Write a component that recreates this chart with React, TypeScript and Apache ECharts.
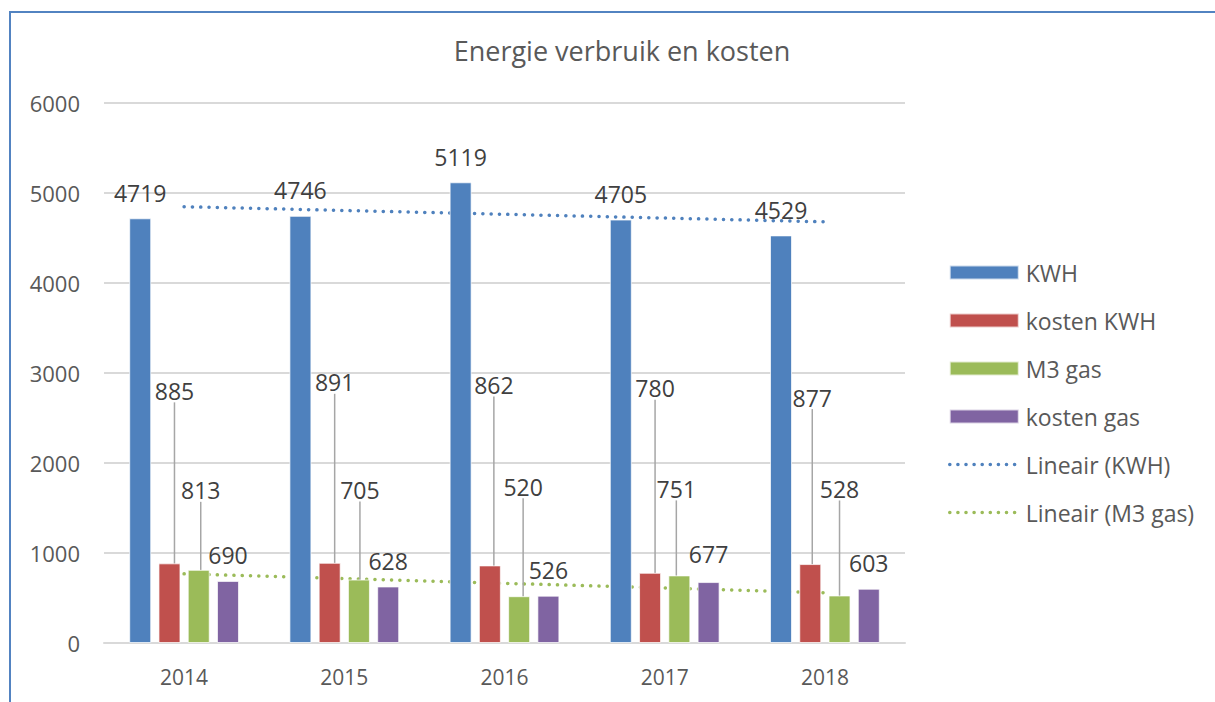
import React, { useEffect, useRef } from "react";
import * as echarts from "echarts";

const categories = ["2014", "2015", "2016", "2017", "2018"];
const kwh = [4719, 4746, 5119, 4705, 4529];
const kostenKwh = [885, 891, 862, 780, 877];
const m3Gas = [813, 705, 520, 751, 528];
const kostenGas = [690, 628, 526, 677, 603];
const yTicks = [0, 1000, 2000, 3000, 4000, 5000, 6000];

// label layout offsets (dragged labels in the original)
const kostenKwhLabelDx = [5, 5, 4, 5, 2];
const kostenKwhLabelDy = [-147, -155, -155, -159, -141];
const m3GasLabelDx = [2, 1, 4, -3, 0];
const m3GasLabelDy = [-54, -64, -84, -61, -81];
const kostenGasLabelDy = [0, 0, 0, -3, 0];

function linearTrend(values: number[]): number[] {
  const n = values.length;
  const xs = values.map((_, i) => i + 1);
  const mx = xs.reduce((a, b) => a + b, 0) / n;
  const my = values.reduce((a, b) => a + b, 0) / n;
  let num = 0;
  let den = 0;
  for (let i = 0; i < n; i++) {
    num += (xs[i] - mx) * (values[i] - my);
    den += (xs[i] - mx) * (xs[i] - mx);
  }
  const slope = num / den;
  const intercept = my - slope * mx;
  return xs.map((x) => +(intercept + slope * x).toFixed(2));
}

const FONT = "'Open Sans', 'Noto Sans', sans-serif";
const BLUE = "#4f81bd";
const RED = "#c0504d";
const GREEN = "#9bbb59";
const PURPLE = "#8064a2";

export default function App() {
  const ref = useRef<HTMLDivElement>(null);

  useEffect(() => {
    if (!ref.current) return;
    const chart = echarts.init(ref.current, undefined, { renderer: "svg" });

    const labelBase = {
      show: true,
      position: "top" as const,
      distance: 14,
      fontFamily: FONT,
      fontSize: 23,
      color: "#404040",
    };
    const leader = {
      show: true,
      lineStyle: { color: "#a6a6a6", width: 1.5 },
    };
    const barCommon = {
      type: "bar" as const,
      barWidth: 22,
      barGap: "33%",
      z: 3,
    };
    const bar = (color: string) => ({
      color,
      borderColor: "rgba(255,255,255,0.7)",
      borderWidth: 1,
    });
    const hiddenSymbol = { color: "rgba(0,0,0,0)", borderWidth: 0, opacity: 0 };
    const legendDots = { width: 3.5, type: [0.1, 8], cap: "round" };

    chart.setOption({
      animation: false,
      backgroundColor: "#ffffff",
      textStyle: { fontFamily: FONT },
      title: {
        text: "Energie verbruik en kosten",
        left: 617,
        top: 32,
        textAlign: "center",
        textStyle: {
          fontFamily: FONT,
          fontSize: 27,
          fontWeight: "normal",
          color: "#595959",
        },
      },
      graphic: [
        {
          type: "polyline",
          shape: {
            points: [
              [10, 702],
              [10, 12],
              [1215, 12],
            ],
          },
          style: { stroke: "#5283c1", lineWidth: 2, fill: "none" },
          silent: true,
        },
      ],
      legend: {
        orient: "vertical",
        left: 943,
        top: 256,
        itemWidth: 69,
        itemHeight: 14,
        itemGap: 25,
        textStyle: {
          fontFamily: FONT,
          fontSize: 23,
          color: "#595959",
          padding: [0, 0, 0, 2],
        },
        data: [
          { name: "KWH", icon: "rect" },
          { name: "kosten KWH", icon: "rect" },
          { name: "M3 gas", icon: "rect" },
          { name: "kosten gas", icon: "rect" },
          { name: "Lineair (KWH)", itemStyle: hiddenSymbol, lineStyle: legendDots },
          { name: "Lineair (M3 gas)", itemStyle: hiddenSymbol, lineStyle: legendDots },
        ],
      },
      grid: { left: 104, right: 310, top: 103, bottom: 59, containLabel: false },
      xAxis: {
        type: "category",
        data: categories,
        axisTick: { show: false },
        axisLine: { lineStyle: { color: "#d9d9d9", width: 2 } },
        axisLabel: {
          fontFamily: FONT,
          fontSize: 21,
          color: "#595959",
          margin: 23,
        },
      },
      yAxis: {
        type: "value",
        min: yTicks[0],
        max: yTicks[yTicks.length - 1],
        interval: 1000,
        axisLine: { show: false },
        axisTick: { show: false },
        splitLine: { lineStyle: { color: "#d9d9d9", width: 2 } },
        axisLabel: {
          fontFamily: FONT,
          fontSize: 22,
          color: "#595959",
          margin: 24,
          formatter: (v: number) => String(v),
        },
      },
      series: [
        {
          ...barCommon,
          name: "KWH",
          data: kwh,
          itemStyle: bar(BLUE),
          label: labelBase,
        },
        {
          ...barCommon,
          name: "kosten KWH",
          data: kostenKwh,
          itemStyle: bar(RED),
          label: labelBase,
          labelLine: leader,
          labelLayout: (p: any) => ({
            dx: kostenKwhLabelDx[p.dataIndex],
            dy: kostenKwhLabelDy[p.dataIndex],
          }),
        },
        {
          ...barCommon,
          name: "M3 gas",
          data: m3Gas,
          itemStyle: bar(GREEN),
          label: labelBase,
          labelLine: leader,
          labelLayout: (p: any) => ({
            dx: m3GasLabelDx[p.dataIndex],
            dy: m3GasLabelDy[p.dataIndex],
          }),
        },
        {
          ...barCommon,
          name: "kosten gas",
          data: kostenGas,
          itemStyle: bar(PURPLE),
          label: labelBase,
          labelLayout: (p: any) => ({
            dy: kostenGasLabelDy[p.dataIndex],
          }),
        },
        {
          type: "line",
          name: "Lineair (KWH)",
          data: linearTrend(kwh),
          symbol: "none",
          z: 1,
          color: BLUE,
          lineStyle: { color: BLUE, width: 3.5, type: [0.1, 8.2], cap: "round" },
          itemStyle: { color: BLUE },
        },
        {
          type: "line",
          name: "Lineair (M3 gas)",
          data: linearTrend(m3Gas),
          symbol: "none",
          z: 1,
          color: GREEN,
          lineStyle: { color: GREEN, width: 3.5, type: [0.1, 8.2], cap: "round" },
          itemStyle: { color: GREEN },
        },
      ],
    });

    return () => chart.dispose();
  }, []);

  return (
    <div
      ref={ref}
      style={{ position: "fixed", left: 0, top: 0, width: 1215, height: 702 }}
    />
  );
}
